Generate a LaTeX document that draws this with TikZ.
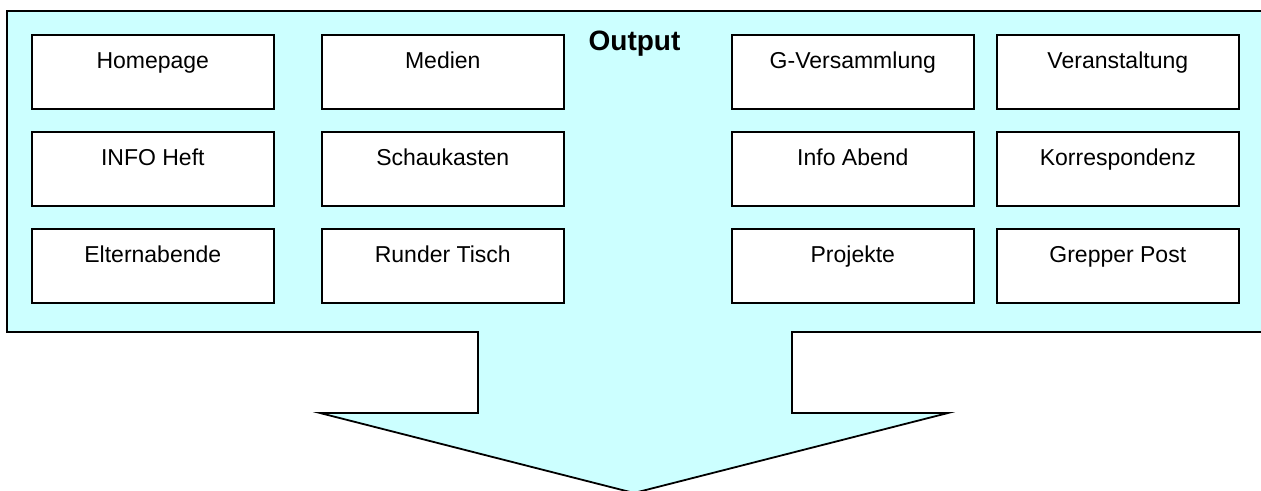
\documentclass[tikz,border=0pt]{standalone}
\usepackage{fontspec}
\setmainfont{Liberation Sans}
\definecolor{panelfill}{HTML}{CCFFFF}
\begin{document}
\begin{tikzpicture}[x=1pt,y=-1pt,
  outline/.style={draw=black,line width=1.8pt,fill=panelfill,line join=miter},
  itembox/.style={draw=black,line width=1.6pt,fill=white,rectangle,
    anchor=north west,minimum width=242pt,inner xsep=2pt,inner ysep=0pt,
    text height=34pt,text depth=40pt,font=\fontsize{23}{26}\selectfont},
  heading/.style={anchor=base,font=\fontsize{28}{30}\selectfont\bfseries}]
\useasboundingbox (0,0) rectangle (1261,490);
\clip (0,0) rectangle (1261,490);
% arrow-shaped panel
\draw[outline] (7,11) -- (1275,11) -- (1275,332) -- (792,332) -- (792,413)
  -- (948,413) -- (634,493) -- (320,413) -- (478,413) -- (478,332)
  -- (7,332) -- cycle;
\node[heading] (title) at (634.5,50) {Output};
% left block
\node[itembox] (homepage) at (31,34)  {Homepage};
\node[itembox] (medien)   at (321,34) {Medien};
\node[itembox] (info)     at (31,131) {INFO Heft};
\node[itembox] (schau)    at (321,131) {Schaukasten};
\node[itembox] (eltern)   at (31,228) {Elternabende};
\node[itembox] (runder)   at (321,228) {Runder Tisch};
% right block
\node[itembox] (gvers)    at (731,34)  {G-Versammlung};
\node[itembox] (veran)    at (996,34)  {Veranstaltung};
\node[itembox] (abend)    at (731,131) {Info Abend};
\node[itembox] (korr)     at (996,131) {Korrespondenz};
\node[itembox] (proj)     at (731,228) {Projekte};
\node[itembox] (post)     at (996,228) {Grepper Post};
\end{tikzpicture}
\end{document}
